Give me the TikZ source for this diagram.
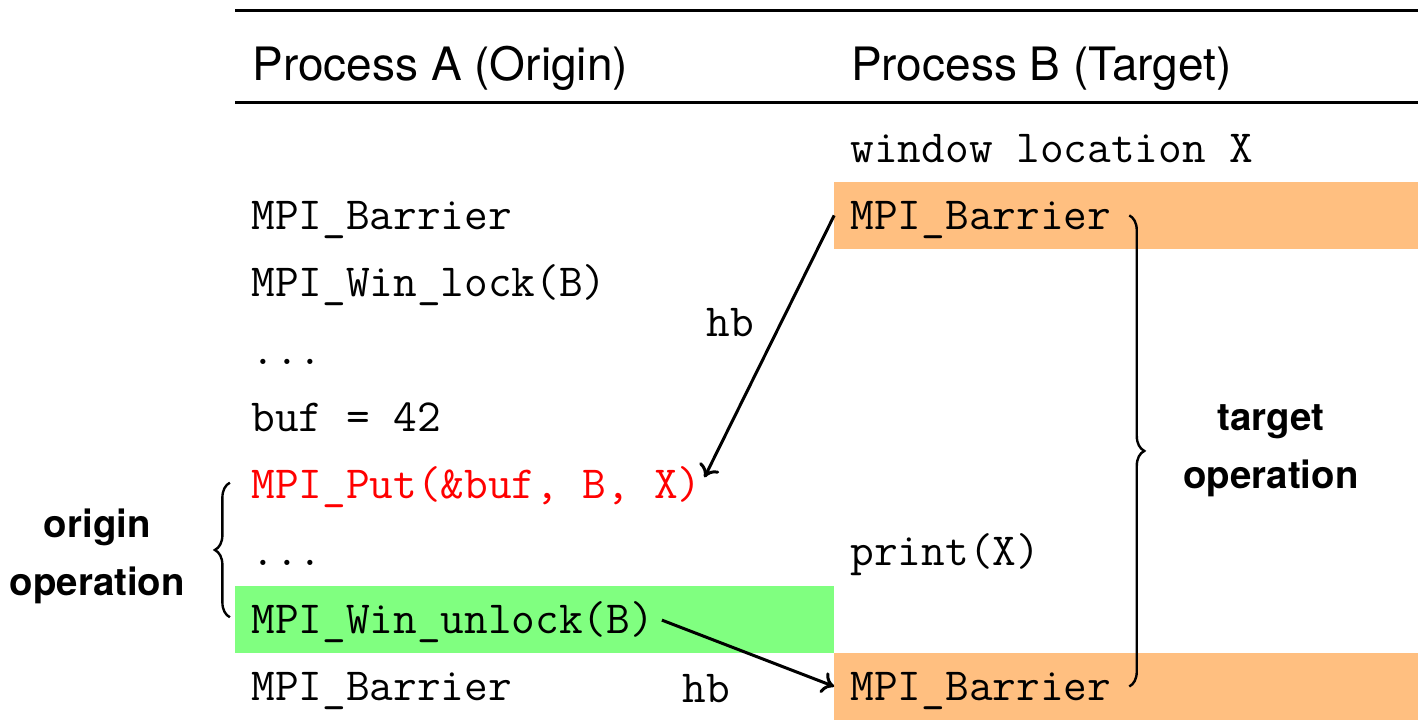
\documentclass[tikz,border=0pt]{standalone}
\usepackage{fontspec}
\setsansfont{TeX Gyre Heros}
\usetikzlibrary{arrows.meta,positioning,calc,decorations.pathreplacing}
\definecolor{ink}{HTML}{000000}
\definecolor{barr}{HTML}{FFBF80}
\definecolor{unl}{HTML}{80FF80}
\definecolor{rmaop}{HTML}{FF0000}
\tikzset{
  code/.style={font=\fontsize{23}{28}\selectfont\ttfamily,anchor=base west,inner ysep=0pt,text depth=0pt,text=ink},
  codeA/.style={code,inner xsep=0pt},
  codeB/.style={code,inner xsep=8pt},
  head/.style={font=\fontsize{23}{28}\selectfont\sffamily,anchor=base west,inner sep=0pt,text=ink},
  opl/.style={font=\fontsize{19.2}{29}\selectfont\sffamily\bfseries,align=center,inner sep=0pt,text=ink},
  hbl/.style={font=\fontsize{23}{28}\selectfont\ttfamily,inner sep=0pt,text depth=0pt,text=ink},
  hbarr/.style={-{To[length=6pt,width=11pt]},line width=1.5pt,ink},
  brc/.style={decorate,decoration={brace,amplitude=7.5pt},line width=1.2pt,ink},
  hrule/.style={line width=1.5pt,ink}
}

\begin{document}
\begin{tikzpicture}[x=1cm,y=1cm]
\useasboundingbox (0,0) rectangle (24.92,12.69);
% ================= table frame =================
\fill[barr] (14.66,8.31) rectangle (24.92,9.49);
\fill[barr] (14.66,0.03) rectangle (24.92,1.21);
\fill[unl] (4.13,1.21) rectangle (14.66,2.39);
\draw[hrule] (4.13,12.51) -- (24.92,12.51);
\draw[hrule] (4.13,10.88) -- (24.92,10.88);
\node[head] (headA) at (4.43,11.28) {Process A (Origin)};
\node[head] (headB) at (14.95,11.28) {Process B (Target)};
% ================= origin side =================
\node[codeA] (barA1) at (4.41,8.658) {MPI\_Barrier};
\node[codeA] (lock) at (4.41,7.475) {MPI\_Win\_lock(B)};
\node[codeA] (dotsA1) at (4.41,6.293) {...};
\node[codeA] (buf) at (4.41,5.110) {buf = 42};
\node[codeA,text=rmaop] (put) at (4.41,3.927) {MPI\_Put(\&buf, B, X)};
\node[codeA] (dotsA2) at (4.41,2.745) {...};
\node[codeA] (unlock) at (4.41,1.562) {MPI\_Win\_unlock(B)};
\node[codeA] (barA2) at (4.41,0.379) {MPI\_Barrier};
% ================= target side =================
\node[codeB] (winX) at (14.66,9.841) {window location X};
\node[codeB] (barB1) at (14.66,8.658) {MPI\_Barrier};
\node[codeB] (print) at (14.66,2.745) {print(X)};
\node[codeB] (barB2) at (14.66,0.379) {MPI\_Barrier};
% ================= happens-before =================
\draw[hbarr,shorten >=3pt] (barB1.west) -- (put.east) node[hbl,pos=0.4,left=13pt] {hb};
\draw[hbarr,shorten <=4pt] (unlock.east) -- (barB2.west) node[hbl,pos=0.29,below=18pt] {hb};
% ================= braces =================
\draw[brc] ($(barB1.east)+(0.03,0)$) -- ($(barB2.east)+(0.03,0)$)
  node[opl,midway,right=0.93cm] {target\\operation};
\draw[brc] ($(unlock.west)+(-0.37,0)$) -- ($(put.west)+(-0.37,0)$)
  node[opl,midway,left=0.77cm,yshift=-3pt] {origin\\operation};
\end{tikzpicture}
\end{document}
